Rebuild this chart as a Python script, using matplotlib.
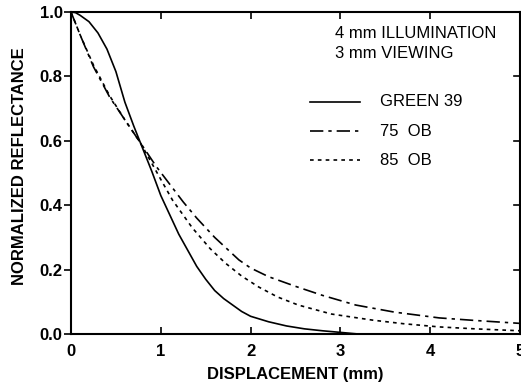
import matplotlib
matplotlib.use("Agg")
import matplotlib.pyplot as plt

# Data
green_x = [0, 0.05, 0.1, 0.2, 0.3, 0.4, 0.5, 0.6, 0.7, 0.8, 0.9, 1.0, 1.1, 1.2, 1.3,
           1.4, 1.5, 1.6, 1.7, 1.8, 1.9, 2.0, 2.2, 2.4, 2.6, 2.8, 3.0, 3.2]
green_y = [1.0, 0.998, 0.99, 0.97, 0.935, 0.885, 0.815, 0.72, 0.645, 0.575, 0.505, 0.43, 0.37, 0.31, 0.26,
           0.21, 0.17, 0.135, 0.11, 0.09, 0.07, 0.055, 0.038, 0.025, 0.016, 0.01, 0.005, 0.0]

ob75_x = [0, 0.1, 0.25, 0.43, 0.6, 0.77, 0.95, 1.1, 1.25, 1.4, 1.6, 1.87, 2.0, 2.2, 2.5,
          2.8, 3.17, 3.6, 4.1, 4.5, 5.0]
ob75_y = [1.0, 0.93, 0.83, 0.736, 0.665, 0.595, 0.52, 0.465, 0.41, 0.36, 0.30, 0.23, 0.205, 0.178, 0.148,
          0.12, 0.09, 0.068, 0.05, 0.042, 0.033]

ob85_x = [0, 0.1, 0.25, 0.43, 0.6, 0.77, 0.9, 1.0, 1.13, 1.35, 1.55, 1.72, 1.9, 2.09, 2.3,
          2.53, 2.9, 3.36, 3.7, 4.1, 4.5, 5.0]
ob85_y = [1.0, 0.93, 0.835, 0.74, 0.665, 0.595, 0.53, 0.48, 0.416, 0.33, 0.265, 0.22, 0.18, 0.146, 0.115,
          0.09, 0.062, 0.043, 0.032, 0.022, 0.016, 0.01]

x_ticks = [0, 1, 2, 3, 4, 5]
y_ticks = [0.0, 0.2, 0.4, 0.6, 0.8, 1.0]
y_ticklabels = ["0.0", "0.2", "0.4", "0.6", "0.8", "1.0"]
series_labels = ["GREEN 39", "75  OB", "85  OB"]

W, H = 521, 387
fig = plt.figure(figsize=(W / 100, H / 100), dpi=100)
L, R, T, B = 71, 520, 12, 334
ax = fig.add_axes([L / W, 1 - B / H, (R - L) / W, (B - T) / H])


def axf(px, py):
    return (px - L) / (R - L), (B - py) / (B - T)


lw = 1.2
styles = ["-", (0, (8, 3, 2, 3)), (0, (2.2, 2.5))]
ax.plot(green_x, green_y, color="black", lw=lw, ls=styles[0])
ax.plot(ob75_x, ob75_y, color="black", lw=lw, ls=styles[1])
ax.plot(ob85_x, ob85_y, color="black", lw=lw, ls=styles[2])

ax.set_xlim(0, 5)
ax.set_ylim(0, 1.0)
ax.set_xticks(x_ticks)
ax.set_yticks(y_ticks)
ax.set_yticklabels(y_ticklabels)

for lab in ax.get_xticklabels() + ax.get_yticklabels():
    lab.set_fontfamily("Liberation Sans")
    lab.set_fontweight("bold")
    lab.set_fontsize(12)

ax.tick_params(axis="x", direction="in", length=5, width=1.2, top=True, pad=7)
ax.tick_params(axis="y", direction="out", length=5, width=1.2, pad=1)
for s in ax.spines.values():
    s.set_linewidth(1.5)

# right-side inward ticks
for yv in y_ticks[1:-1]:
    ax.plot([5.0, 4.93], [yv, yv], color="black", lw=1.2, clip_on=False)

ax.set_xlabel("DISPLACEMENT (mm)", fontsize=12, family="Liberation Sans", fontweight="bold",
              va="center")
ax.xaxis.set_label_coords(0.5, axf(0, 375)[1])
ax.set_ylabel("NORMALIZED REFLECTANCE", fontsize=12, family="Liberation Sans", fontweight="bold",
              va="center")
ax.yaxis.set_label_coords(axf(20, 0)[0], axf(0, 166)[1])

tx, ty = axf(335, 33)
ax.text(tx, ty, "4 mm ILLUMINATION", transform=ax.transAxes,
        fontsize=12, family="Liberation Sans", va="center", ha="left")
tx, ty = axf(335, 53)
ax.text(tx, ty, "3 mm VIEWING", transform=ax.transAxes,
        fontsize=12, family="Liberation Sans", va="center", ha="left")

# legend drawn at its reference position
rows = [102, 131, 160]
for st, lab, py in zip(styles, series_labels, rows):
    x0, yy = axf(310, py)
    x1, _ = axf(360, py)
    ax.plot([x0, x1], [yy, yy], transform=ax.transAxes, color="black", lw=lw, ls=st)
    xt, _ = axf(380, py)
    ax.text(xt, yy, lab, transform=ax.transAxes, fontsize=12, family="Liberation Sans",
            va="center", ha="left")

fig.savefig("out.png", dpi=100)
